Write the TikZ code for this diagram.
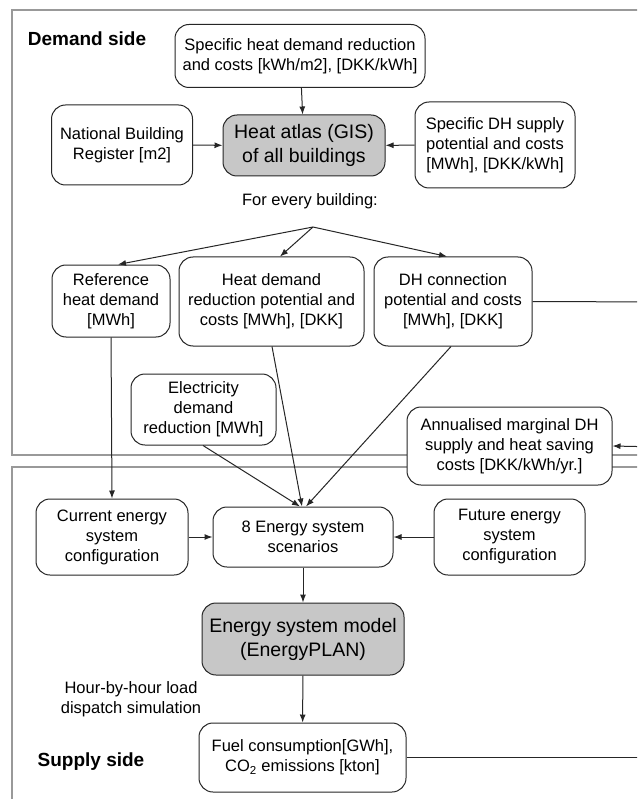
\documentclass[tikz,border=0pt]{standalone}
\usepackage{fontspec}
\setmainfont{Liberation Sans}
\usetikzlibrary{arrows.meta}
\begin{document}
\begin{tikzpicture}[x=1pt,y=-1pt,
 box/.style={draw=black!85, fill=white, line width=1pt, rounded corners=14pt, align=center, font=\fontsize{16.5}{20}\selectfont, inner sep=0pt},
 gbox/.style={box, fill=black!22, font=\fontsize{19.5}{24}\selectfont},
 arr/.style={-{Latex[length=8pt,width=6pt]}, line width=1pt, draw=black!85},
 ln/.style={line width=1pt, draw=black!85},
 frame/.style={draw=black!40, line width=2pt},
 lbl/.style={align=center, font=\fontsize{16.5}{20}\selectfont, inner sep=0pt},
 side/.style={font=\fontsize{19}{23}\selectfont\bfseries, inner sep=0pt}]
\useasboundingbox (0,0) rectangle (637,799);
\clip (0,0) rectangle (637,799);
\fill[white] (0,0) rectangle (637,799);
% frames
\draw[frame] (12,10) rectangle (660,455);
\draw[frame] (12,467) rectangle (660,830);
% labels
\node[side] (dside) at (87,39) {Demand side};
\node[side] (sside) at (91,762) {Supply side};
% demand nodes
\node[box, minimum width=250pt, minimum height=63pt] (spec) at (300,56) {Specific heat demand reduction\\and costs [kWh/m2], [DKK/kWh]};
\node[box, minimum width=141pt, minimum height=80pt] (nbr) at (122,145) {National Building\\Register [m2]};
\node[gbox, minimum width=162pt, minimum height=61pt] (atlas) at (304,145.5) {Heat atlas (GIS)\\of all buildings};
\node[box, minimum width=160pt, minimum height=86pt] (sdh) at (495,145) {Specific DH supply\\potential and costs\\{[MWh]}, [DKK/kWh]};
\node[lbl] (every) at (310,201) {For every building:};
\coordinate (branch) at (313,227);
\node[box, minimum width=118pt, minimum height=72pt] (ref) at (111,301) {Reference\\heat demand\\{[MWh]}};
\node[box, minimum width=185pt, minimum height=89pt] (hdr) at (271.5,301.5) {Heat demand\\reduction potential and\\costs [MWh], [DKK]};
\node[box, minimum width=158pt, minimum height=89pt] (dhc) at (453,301.5) {DH connection\\potential and costs\\{[MWh]}, [DKK]};
\node[box, minimum width=145pt, minimum height=71pt] (elec) at (203.5,409.5) {Electricity\\demand\\reduction [MWh]};
\node[box, minimum width=205pt, minimum height=78pt] (ann) at (509.5,446) {Annualised marginal DH\\supply and heat saving\\costs [DKK/kWh/yr.]};
% supply nodes
\node[box, minimum width=152pt, minimum height=76pt] (cur) at (112,537) {Current energy\\system\\configuration};
\node[box, minimum width=180pt, minimum height=60pt] (scen) at (303,537) {8 Energy system\\scenarios};
\node[box, minimum width=151pt, minimum height=76pt] (fut) at (509.5,537) {Future energy\\system\\configuration};
\node[gbox, minimum width=202pt, minimum height=72pt] (model) at (303,639) {Energy system model\\(EnergyPLAN)};
\node[lbl] (hour) at (131,699) {Hour-by-hour load\\dispatch simulation};
\node[box, minimum width=207pt, minimum height=69pt] (fuel) at (302.5,757.5) {Fuel consumption[GWh],\\CO\textsubscript{2} emissions [kton]};
% free ends
\coordinate (r1) at (660,302);
\coordinate (r2) at (660,447);
\coordinate (r3) at (660,757.5);
% connectors
\draw[arr] (spec) -- (atlas);
\draw[arr] (nbr) -- (atlas);
\draw[arr] (sdh) -- (atlas);
\draw[arr] (branch) -- (ref.north -| 118,0);
\draw[arr] (branch) -- (hdr.north -| 280,0);
\draw[arr] (branch) -- (dhc.north -| 447,0);
\draw[ln] (dhc.east) -- (r1);
\draw[arr] (r2) -- (ann.east);
\draw[arr] (ref.south) -- (cur.north);
\draw[arr] (elec.south -| 203,0) -- (scen.north -| 300,0);
\draw[arr] (hdr.south -| 272,0) -- (scen.north -| 302,0);
\draw[arr] (dhc.south -| 451,0) -- (scen.north -| 306,0);
\draw[arr] (cur) -- (scen);
\draw[arr] (fut) -- (scen);
\draw[arr] (scen) -- (model);
\draw[arr] (model) -- (fuel);
\draw[ln] (fuel.east) -- (r3);
\end{tikzpicture}
\end{document}
